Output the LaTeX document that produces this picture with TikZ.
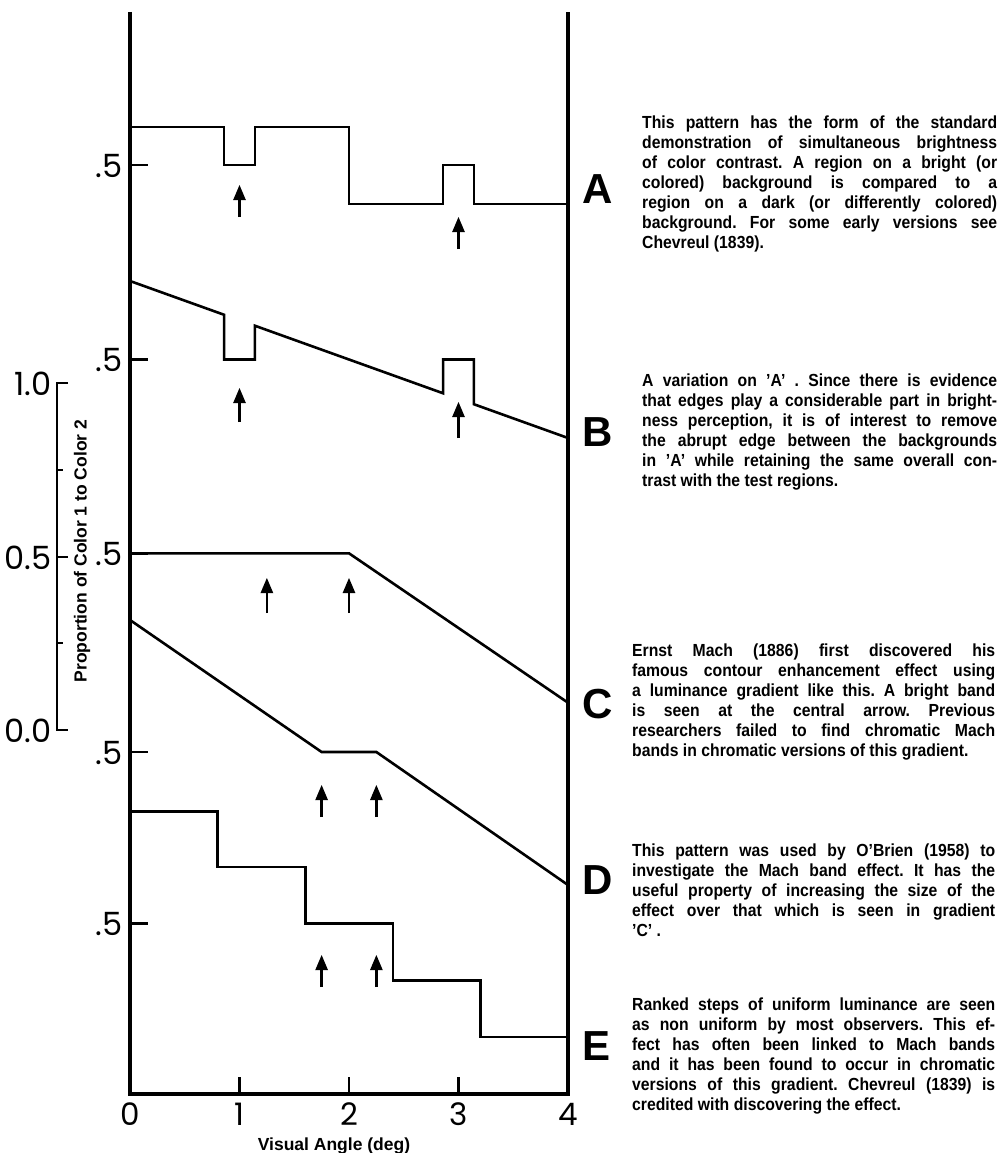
\documentclass[tikz,border=0pt]{standalone}
\usepackage{fontspec}
\setmainfont{Liberation Sans}
\newfontfamily\numfont{Poppins}
\newfontfamily\notesfont[FakeStretch=0.9]{Liberation Sans}
\usepackage{tikz}
\usetikzlibrary{arrows}
\usetikzlibrary{positioning}

\newcommand{\notefont}{\notesfont\bfseries\fontsize{17.5}{20}\selectfont
  \frenchspacing \parindent=0pt \spaceskip=4.4pt plus 30pt minus 1pt\relax}

\tikzstyle{frame} = [line width=3.2pt, line join=miter]
\tikzstyle{curve} = [line width=2.6pt, line join=miter]
\tikzstyle{halftick} = [line width=2.6pt]
\tikzstyle{probe} = [draw, line width=2.6pt, -triangle 45]
\tikzstyle{halflabel} = [anchor=east, inner sep=0pt,
                         font=\numfont\fontsize{32}{32}\selectfont]
\tikzstyle{anglelabel} = [inner sep=0pt, font=\numfont\fontsize{31}{31}\selectfont]
\tikzstyle{patternname} = [anchor=west, inner sep=0pt,
                           font=\bfseries\fontsize{42}{42}\selectfont]
\tikzstyle{notes} = [anchor=north west, inner sep=0pt, text width=355pt,
                     align=justify, font=\notefont]
\tikzstyle{axistitle} = [inner sep=0pt, font=\bfseries\fontsize{17.5}{17.5}\selectfont]

\begin{document}
\begin{tikzpicture}[x=1pt, y=-1pt]
  \path[fill=white, use as bounding box] (0,0) rectangle (1000,1153);

  % Frame and angle axis
  \draw[frame] (130,12) -- (130,1094) -- (568,1094) -- (568,12);
  \foreach \d in {1,2,3}
    \draw[line width=2.4pt] (130+109.5*\d,1094) -- (130+109.5*\d,1077);
  \foreach \d in {0,...,4}
    \node[anglelabel] (deg\d) at (130+109.5*\d,1114) {\d};
  \node[axistitle] (xtitle) at (334,1146) {Visual Angle (deg)};

  % Proportion scale
  \draw[line width=2pt] (68,383) -- (57,383) -- (57,730) -- (68,730);
  \draw[line width=2pt] (57,556.5) -- (68,556.5);
  \draw[line width=1.6pt] (57,469.75) -- (63,469.75);
  \draw[line width=1.6pt] (57,643.25) -- (63,643.25);
  \node[halflabel] (scaleone) at (52,384) {1.0};
  \node[halflabel] (scalehalf) at (52,557.5) {0.5};
  \node[halflabel] (scalezero) at (52,731) {0.0};
  \node[axistitle, rotate=90] (ytitle) at (82,551) {Proportion of Color 1 to Color 2};

  % Place the .5 marks
  \node[halflabel] (halfA) at (123,166) {.5};
  \node[halflabel] (halfB) at (123,360.5) {.5};
  \node[halflabel] (halfC) at (123,554.5) {.5};
  \node[halflabel] (halfD) at (123,753.5) {.5};
  \node[halflabel] (halfE) at (123,924.5) {.5};

  % Draw the patterns
  \begin{scope}[shift={(130pt,0pt)}, x=109.5pt]
    \foreach \h in {165,359.5,553.3,752,923.3}
      \draw[halftick] (0,\h) -- (0.165,\h);
    % A
    \draw[curve] (0,127) -- (0.86,127) |- (1.14,165) |- (2,127) |- (2.86,204)
      |- (3.14,165) |- (4,204);
    \draw[probe] (1,217) -- (1,185);
    \draw[probe] (3,249) -- (3,217);
    % B
    \draw[curve] (0,281) -- (0.86,314.8) -- (0.86,359.5) -- (1.14,359.5)
      -- (1.14,325.7) -- (2.86,393.3) -- (2.86,359.5) -- (3.14,359.5)
      -- (3.14,404.2) -- (4,438);
    \draw[probe] (1,422) -- (1,388);
    \draw[probe] (3,438) -- (3,402);
    % C
    \draw[curve] (0,553.3) -- (2,553.3) -- (4,702.7);
    \draw[probe] (1.25,613) -- (1.25,578);
    \draw[probe] (2,613) -- (2,578);
    % D
    \draw[curve] (0,620) -- (1.75,752) -- (2.25,752) -- (4,885);
    \draw[probe] (1.75,817) -- (1.75,785);
    \draw[probe] (2.25,817) -- (2.25,785);
    % E
    \draw[curve] (0,811.5) -| (0.8,867) -| (1.6,923.3) -| (2.4,980.5)
      -| (3.2,1037) -- (4,1037);
    \draw[probe] (1.75,987) -- (1.75,955);
    \draw[probe] (2.25,987) -- (2.25,955);
  \end{scope}

  % Pattern names
  \node[patternname] (nameA) at (582,189) {A};
  \node[patternname] (nameB) at (582,432) {B};
  \node[patternname] (nameC) at (582,704) {C};
  \node[patternname] (nameD) at (582,880) {D};
  \node[patternname] (nameE) at (582,1046) {E};

  % Notes
  \node[notes] (noteA) at (642,114) {\strut This pattern has the form of the standard\linebreak
    demonstration of simultaneous brightness\linebreak
    of color contrast. A region on a bright (or\linebreak
    colored) background is compared to a\linebreak
    region on a dark (or differently colored)\linebreak
    background. For some early versions see\linebreak
    Chevreul (1839).};
  \node[notes] (noteB) at (642,372.7) {\strut A variation on ’A’ . Since there is evidence\linebreak
    that edges play a considerable part in bright-\linebreak
    ness perception, it is of interest to remove\linebreak
    the abrupt edge between the backgrounds\linebreak
    in ’A’ while retaining the same overall con-\linebreak
    trast with the test regions.};
  \node[notes, text width=363pt] (noteC) at (632,642.7) {\strut Ernst Mach (1886) first discovered his\linebreak
    famous contour enhancement effect using\linebreak
    a luminance gradient like this. A bright band\linebreak
    is seen at the central arrow. Previous\linebreak
    researchers failed to find chromatic Mach\linebreak
    bands in chromatic versions of this gradient.};
  \node[notes, text width=363pt] (noteD) at (632,842.7) {\strut This pattern was used by O’Brien (1958) to\linebreak
    investigate the Mach band effect. It has the\linebreak
    useful property of increasing the size of the\linebreak
    effect over that which is seen in gradient\linebreak
    ’C’ .};
  \node[notes, text width=363pt] (noteE) at (632,996) {\strut Ranked steps of uniform luminance are seen\linebreak
    as non uniform by most observers. This ef-\linebreak
    fect has often been linked to Mach bands\linebreak
    and it has been found to occur in chromatic\linebreak
    versions of this gradient. Chevreul (1839) is\linebreak
    credited with discovering the effect.};
\end{tikzpicture}
\end{document}
